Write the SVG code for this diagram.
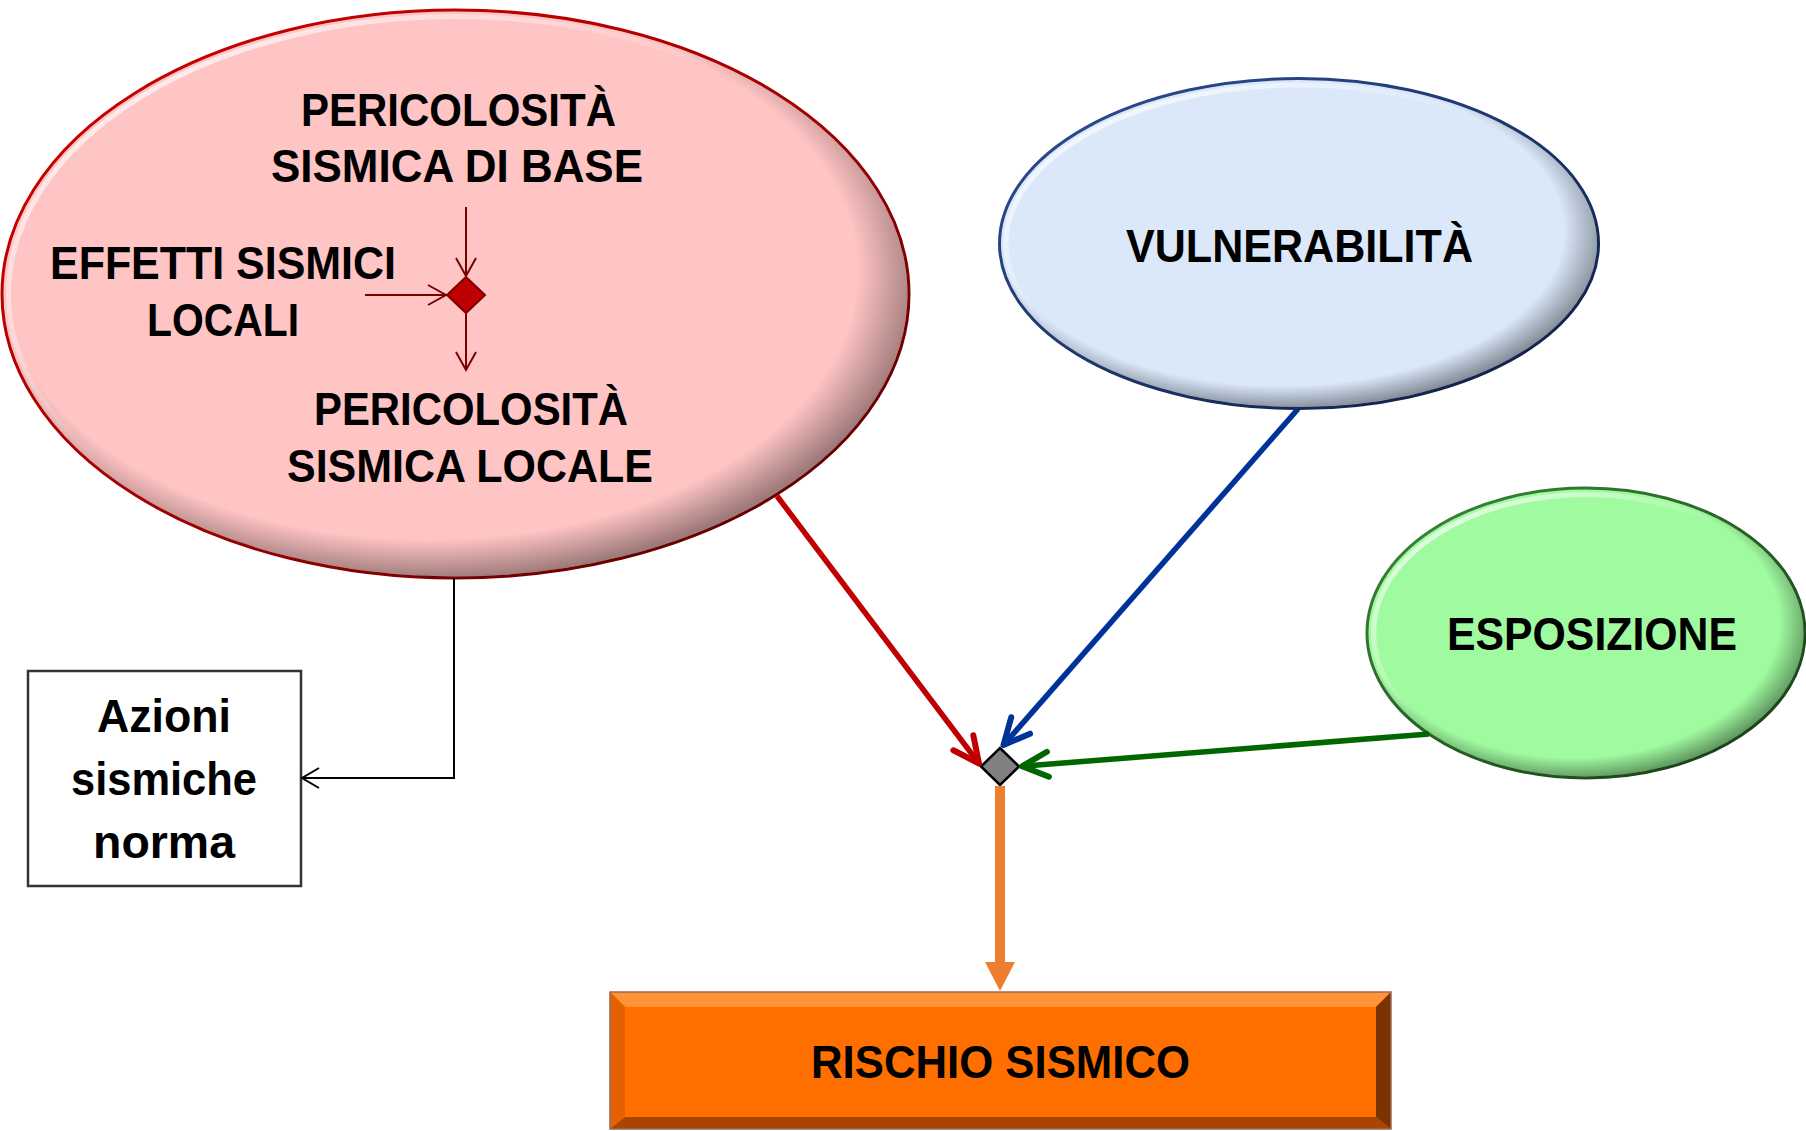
<svg xmlns="http://www.w3.org/2000/svg" width="1806" height="1131" viewBox="0 0 1806 1131">
<style>
text{font-family:"Liberation Sans",Arial,sans-serif;font-weight:bold;fill:#000;text-anchor:middle}
.t43{font-size:45.5px}
.t45{font-size:47px}
.shade{fill:url(#edgeShade);stroke:none}
.hl{fill:none;stroke:url(#hlGrad);stroke-width:5}
.thin{fill:none;stroke:#7A0000;stroke-width:2}
</style>
<defs>
<radialGradient id="edgeShade" cx="0.47" cy="0.46" r="0.545">
<stop offset="0" stop-color="#000" stop-opacity="0"/>
<stop offset="0.87" stop-color="#000" stop-opacity="0"/>
<stop offset="1" stop-color="#000" stop-opacity="0.38"/>
</radialGradient>
<linearGradient id="hlGrad" x1="0" y1="0" x2="1" y2="1">
<stop offset="0" stop-color="#fff" stop-opacity="0.95"/>
<stop offset="0.45" stop-color="#fff" stop-opacity="0"/>
</linearGradient>
<linearGradient id="redEdge" x1="0" y1="0" x2="1" y2="1">
<stop offset="0" stop-color="#D40000"/>
<stop offset="0.55" stop-color="#A00000"/>
<stop offset="1" stop-color="#4A0000"/>
</linearGradient>
<linearGradient id="blueEdge" x1="0" y1="0" x2="1" y2="1">
<stop offset="0" stop-color="#2F4F95"/>
<stop offset="1" stop-color="#0E1C40"/>
</linearGradient>
<linearGradient id="greenEdge" x1="0" y1="0" x2="1" y2="1">
<stop offset="0" stop-color="#3C8A3C"/>
<stop offset="1" stop-color="#153815"/>
</linearGradient>
<marker id="arRed" markerUnits="userSpaceOnUse" markerWidth="60" markerHeight="60" refX="0" refY="0" viewBox="-30 -30 60 60" orient="auto" overflow="visible">
<path d="M-26,-12.5 L0,0 L-26,12.5" fill="none" stroke="#C00000" stroke-width="6" stroke-linecap="round" stroke-linejoin="round"/>
</marker>
<marker id="arBlue" markerUnits="userSpaceOnUse" markerWidth="60" markerHeight="60" refX="0" refY="0" viewBox="-30 -30 60 60" orient="auto" overflow="visible">
<path d="M-26,-12.5 L0,0 L-26,12.5" fill="none" stroke="#003399" stroke-width="6" stroke-linecap="round" stroke-linejoin="round"/>
</marker>
<marker id="arGreen" markerUnits="userSpaceOnUse" markerWidth="60" markerHeight="60" refX="0" refY="0" viewBox="-30 -30 60 60" orient="auto" overflow="visible">
<path d="M-26,-12.5 L0,0 L-26,12.5" fill="none" stroke="#006600" stroke-width="6" stroke-linecap="round" stroke-linejoin="round"/>
</marker>
<marker id="arBlack" markerUnits="userSpaceOnUse" markerWidth="40" markerHeight="40" refX="0" refY="0" viewBox="-20 -20 40 40" orient="auto" overflow="visible">
<path d="M-17,-10 L0,0 L-17,10" fill="none" stroke="#000" stroke-width="2"/>
</marker>
<marker id="arDark" markerUnits="userSpaceOnUse" markerWidth="40" markerHeight="40" refX="0" refY="0" viewBox="-20 -20 40 40" orient="auto" overflow="visible">
<path d="M-18,-10 L0,0 L-18,10" fill="none" stroke="#7A0000" stroke-width="2"/>
</marker>
</defs>
<rect width="1806" height="1131" fill="#fff"/>

<g id="pericolosita">
<ellipse cx="455.5" cy="294" rx="453.5" ry="284" fill="#FFC4C4" stroke="url(#redEdge)" stroke-width="3"/>
<ellipse class="shade" cx="455.5" cy="294" rx="452" ry="282.5"/>
<ellipse class="hl" cx="455.5" cy="294" rx="447" ry="277.5"/>
<text class="t43" x="458.5" y="126" textLength="315" lengthAdjust="spacingAndGlyphs">PERICOLOSITÀ</text>
<text class="t43" x="457" y="182" textLength="372" lengthAdjust="spacingAndGlyphs">SISMICA DI BASE</text>
<text class="t43" x="223" y="279" textLength="346" lengthAdjust="spacingAndGlyphs">EFFETTI SISMICI</text>
<text class="t43" x="223" y="336" textLength="152" lengthAdjust="spacingAndGlyphs">LOCALI</text>
<text class="t43" x="471" y="425" textLength="314" lengthAdjust="spacingAndGlyphs">PERICOLOSITÀ</text>
<text class="t43" x="470" y="482" textLength="366" lengthAdjust="spacingAndGlyphs">SISMICA LOCALE</text>
</g>

<g id="nodo-locale">
<polygon points="466,277 485,295 466,313 447,295" fill="#C00000" stroke="#7A0000" stroke-width="2" stroke-linejoin="miter"/>
</g>

<g id="vulnerabilita">
<ellipse cx="1299" cy="243.5" rx="299.5" ry="165" fill="#DAE8FA" stroke="url(#blueEdge)" stroke-width="3"/>
<ellipse class="shade" cx="1299" cy="243.5" rx="298" ry="163.5"/>
<ellipse class="hl" cx="1299" cy="243.5" rx="293" ry="158.5"/>
<text class="t43" x="1299.5" y="262" textLength="347" lengthAdjust="spacingAndGlyphs">VULNERABILITÀ</text>
</g>

<g id="esposizione">
<ellipse cx="1586" cy="633" rx="219" ry="145" fill="#A0FBA0" stroke="url(#greenEdge)" stroke-width="3"/>
<ellipse class="shade" cx="1586" cy="633" rx="217.5" ry="143.5"/>
<ellipse class="hl" cx="1586" cy="633" rx="212.5" ry="138.5"/>
<text class="t43" x="1592" y="650" textLength="290" lengthAdjust="spacingAndGlyphs">ESPOSIZIONE</text>
</g>

<g id="azioni">
<rect x="28" y="671" width="273" height="215" fill="#fff" stroke="#333" stroke-width="2.5"/>
<text class="t45" x="164" y="732" textLength="134" lengthAdjust="spacingAndGlyphs">Azioni</text>
<text class="t45" x="164" y="795" textLength="186" lengthAdjust="spacingAndGlyphs">sismiche</text>
<text class="t45" x="164" y="858" textLength="142" lengthAdjust="spacingAndGlyphs">norma</text>
</g>

<g id="nodo-rischio">
<polygon points="1000,748 1019,766.5 1000,785 981,766.5" fill="#808080" stroke="#000" stroke-width="2.5" stroke-linejoin="miter"/>
</g>

<g id="rischio">
<rect x="610" y="992" width="781" height="137" fill="#FF6F00"/>
<polygon points="610,992 1391,992 1376,1007 625,1007" fill="#FF9436"/>
<polygon points="610,992 625,1007 625,1117 610,1129" fill="#E56000"/>
<polygon points="1391,992 1376,1007 1376,1117 1391,1129" fill="#7A3300"/>
<polygon points="610,1129 1391,1129 1376,1117 625,1117" fill="#A84500"/>
<rect x="610" y="992" width="781" height="137" fill="none" stroke="#9A6A50" stroke-width="1.5"/>
<text class="t43" x="1000.5" y="1078" textLength="379" lengthAdjust="spacingAndGlyphs">RISCHIO SISMICO</text>
</g>

<g id="connectors">
<line x1="466" y1="207" x2="466" y2="276" class="thin" marker-end="url(#arDark)"/>
<line x1="365" y1="295" x2="446" y2="295" class="thin" marker-end="url(#arDark)"/>
<line x1="466" y1="313" x2="466" y2="370" class="thin" marker-end="url(#arDark)"/>
<polyline points="454,578 454,778 302,778" fill="none" stroke="#000" stroke-width="2" marker-end="url(#arBlack)"/>
<line x1="777" y1="496" x2="979" y2="763.5" stroke="#C00000" stroke-width="5.5" marker-end="url(#arRed)"/>
<line x1="1298" y1="409" x2="1003.5" y2="745" stroke="#003399" stroke-width="5.5" marker-end="url(#arBlue)"/>
<line x1="1429" y1="734" x2="1022" y2="766.3" stroke="#006600" stroke-width="5.5" marker-end="url(#arGreen)"/>
<line x1="1000" y1="786" x2="1000" y2="964" stroke="#ED7D31" stroke-width="10"/>
<path d="M985,962 L1015,962 L1000,991 Z" fill="#ED7D31"/>
</g>
</svg>
